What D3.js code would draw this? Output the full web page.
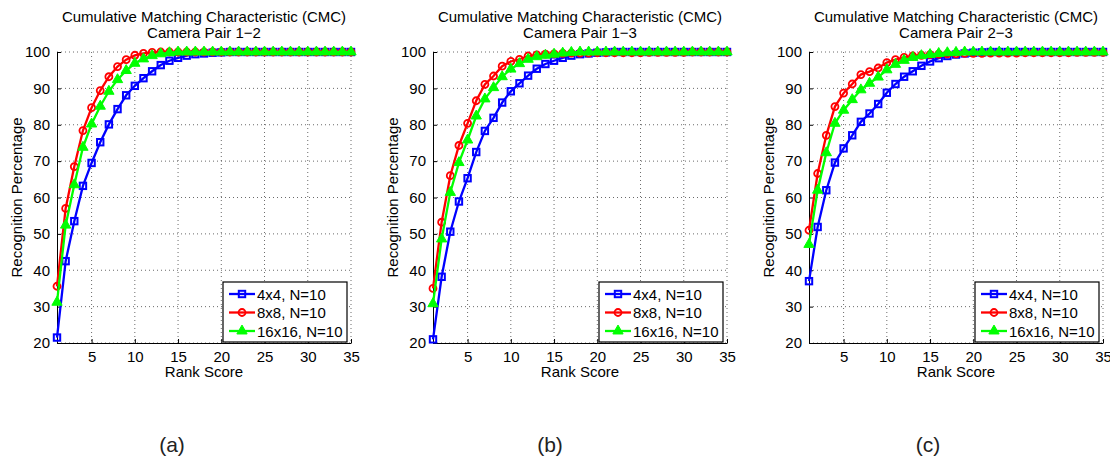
<!DOCTYPE html>
<meta charset="utf-8">
<style>
  body { margin: 0; background: #fff; }
  text { font-family: "Liberation Sans", Arial, sans-serif; }
</style>
<div id="cmc"></div>
<script src="https://d3js.org/d3.v7.min.js"></script>
<script>
// data, rank 1..35
var ranks = d3.range(1, 36);
var seriesNames = ["4x4, N=10", "8x8, N=10", "16x16, N=10"];
var panelTitles = ["Camera Pair 1\u22122", "Camera Pair 1\u22123", "Camera Pair 2\u22123"];
var captions = ["(a)", "(b)", "(c)"];
var xTicks = [5, 10, 15, 20, 25, 30, 35];
var yTicks = [20, 30, 40, 50, 60, 70, 80, 90, 100];

var blueA = [21.5, 42.5, 53.5, 63.2, 69.5, 75.2, 80.1, 84.3, 88.1, 90.7, 92.8, 94.7, 96.4, 97.6, 98.4, 99.0, 99.4, 99.6, 99.8, 99.9,
             100, 100, 100, 100, 100, 100, 100, 100, 100, 100, 100, 100, 100, 100, 100];
var redA  = [35.6, 57.0, 68.5, 78.4, 84.7, 89.4, 93.2, 96.0, 97.9, 99.1, 99.6, 99.9, 100, 100, 100, 100, 100, 100, 100, 100,
             100, 100, 100, 100, 100, 100, 100, 100, 100, 100, 100, 100, 100, 100, 100];
var greenA = [31.2, 52.4, 63.5, 73.8, 80.2, 85.1, 89.2, 92.4, 94.9, 96.9, 98.1, 99.0, 99.5, 99.8, 100, 100, 100, 100, 100, 100,
              100, 100, 100, 100, 100, 100, 100, 100, 100, 100, 100, 100, 100, 100, 100];

var blueB = [21.0, 38.2, 50.6, 58.9, 65.3, 72.5, 78.3, 81.9, 86.1, 89.2, 91.4, 93.5, 95.4, 96.7, 97.6, 98.4, 99.0, 99.4, 99.6, 99.8,
             99.9, 100, 100, 100, 100, 100, 100, 100, 100, 100, 100, 100, 100, 100, 100];
var redB  = [35.0, 53.2, 66.0, 74.3, 80.4, 86.6, 91.1, 93.4, 96.1, 97.4, 98.0, 98.9, 99.2, 99.4, 99.5, 99.6, 99.7, 99.7, 99.7, 99.8,
             99.8, 99.8, 99.8, 99.8, 99.8, 99.9, 99.9, 99.9, 99.9, 99.9, 100, 100, 100, 100, 100];
var greenB = [30.8, 48.6, 61.4, 69.6, 75.8, 82.4, 87.1, 90.2, 93.2, 95.3, 96.8, 98.0, 98.7, 99.1, 99.4, 99.7, 99.9, 100, 100, 100,
              100, 100, 100, 100, 100, 100, 100, 100, 100, 100, 100, 100, 100, 100, 100];

var blueC = [37.0, 51.9, 62.0, 69.6, 73.5, 77.1, 80.8, 83.1, 85.7, 88.8, 91.2, 93.2, 94.7, 96.2, 97.4, 98.3, 98.9, 99.3, 99.6, 99.8,
             99.9, 100, 100, 100, 100, 100, 100, 100, 100, 100, 100, 100, 100, 100, 100];
var redC  = [51.0, 66.6, 77.1, 85.0, 88.7, 91.2, 93.8, 94.6, 95.6, 97.1, 97.9, 98.5, 98.9, 99.1, 99.3, 99.4, 99.5, 99.5, 99.6, 99.6,
             99.6, 99.7, 99.7, 99.7, 99.7, 99.8, 99.8, 99.8, 99.8, 99.8, 99.8, 99.9, 99.9, 99.9, 99.9];
var greenC = [47.1, 62.0, 72.3, 80.4, 84.0, 86.9, 89.6, 91.4, 93.1, 95.1, 96.6, 97.7, 98.5, 99.0, 99.3, 99.6, 99.8, 99.9, 100, 100,
              100, 100, 100, 100, 100, 100, 100, 100, 100, 100, 100, 100, 100, 100, 100];

var panels = [[blueA, redA, greenA], [blueB, redB, greenB], [blueC, redC, greenC]];
var colors = ["#0000ff", "#ff0000", "#00ff00"];

var W = 1110, H = 461;
var svg = d3.select("#cmc").append("svg").attr("width", W).attr("height", H);

var plotLeft = [57, 433, 809], plotW = 294, plotTop = 52, plotBottom = 343;

function marker(g, kind, color) {
  if (kind == 0) {
    g.append("rect").attr("x", -3.2).attr("y", -3.2).attr("width", 6.4).attr("height", 6.4)
      .attr("fill", "none").attr("stroke", color).attr("stroke-width", 2);
  } else if (kind == 1) {
    g.append("circle").attr("r", 3.5).attr("fill", "none").attr("stroke", color).attr("stroke-width", 1.8);
  } else {
    g.append("path").attr("d", d3.symbol().type(d3.symbolTriangle).size(46))
      .attr("fill", color).attr("stroke", color).attr("stroke-width", 1);
  }
}

panels.forEach(function(series, p) {
  var g = svg.append("g").attr("transform", "translate(" + plotLeft[p] + ",0)");

  var x = d3.scaleLinear().domain([1, 35]).range([0, plotW]);
  var y = d3.scaleLinear().domain([20, 100]).range([plotBottom, plotTop]);

  // grid
  g.selectAll(".gx").data(xTicks).enter().append("line")
    .attr("x1", function(d) { return x(d); }).attr("x2", function(d) { return x(d); })
    .attr("y1", plotTop).attr("y2", plotBottom)
    .attr("stroke", "#444").attr("stroke-width", 0.8).attr("stroke-dasharray", "1,3");
  g.selectAll(".gy").data(yTicks).enter().append("line")
    .attr("x1", 0).attr("x2", plotW)
    .attr("y1", function(d) { return y(d); }).attr("y2", function(d) { return y(d); })
    .attr("stroke", "#444").attr("stroke-width", 0.8).attr("stroke-dasharray", "1,3");

  // axes with inward ticks
  var ax = g.append("g").attr("transform", "translate(0," + plotBottom + ")")
    .call(d3.axisBottom(x).tickValues(xTicks).tickSize(-4).tickPadding(8).tickSizeOuter(0));
  var ay = g.append("g")
    .call(d3.axisLeft(y).tickValues(yTicks).tickSize(-4).tickPadding(7).tickSizeOuter(0));
  [ax, ay].forEach(function(a) {
    a.select(".domain").attr("stroke", "#000").attr("stroke-width", 1);
    a.selectAll("text").attr("font-size", 15).attr("font-family", "Liberation Sans, Arial, sans-serif").attr("fill", "#000");
  });

  // series
  series.forEach(function(vals, s) {
    var line = d3.line().x(function(d, i) { return x(ranks[i]); }).y(function(d) { return y(d); });
    g.append("path").datum(vals).attr("d", line)
      .attr("fill", "none").attr("stroke", colors[s]).attr("stroke-width", 2.3);
    vals.forEach(function(v, i) {
      var m = g.append("g").attr("transform", "translate(" + x(ranks[i]) + "," + y(v) + ")");
      marker(m, s, colors[s]);
    });
  });

  // titles and labels
  var cx = plotW / 2;
  g.append("text").attr("x", cx).attr("y", 22).attr("text-anchor", "middle").attr("font-size", 15)
    .text("Cumulative Matching Characteristic (CMC)");
  g.append("text").attr("x", cx).attr("y", 38).attr("text-anchor", "middle").attr("font-size", 15)
    .text(panelTitles[p]);
  g.append("text").attr("x", cx).attr("y", 377).attr("text-anchor", "middle").attr("font-size", 15)
    .text("Rank Score");
  g.append("text").attr("transform", "translate(-35," + ((plotTop + plotBottom) / 2) + ") rotate(-90)")
    .attr("text-anchor", "middle").attr("font-size", 15).text("Recognition Percentage");

  // legend
  var lg = g.append("g").attr("transform", "translate(" + (plotW - 128) + "," + (plotBottom - 61) + ")");
  lg.append("rect").attr("width", 124).attr("height", 60)
    .attr("fill", "#fff").attr("stroke", "#000").attr("stroke-width", 1.2);
  seriesNames.forEach(function(name, s) {
    var ly = 12 + s * 18.5;
    lg.append("line").attr("x1", 6).attr("x2", 32).attr("y1", ly).attr("y2", ly)
      .attr("stroke", colors[s]).attr("stroke-width", 2.3);
    marker(lg.append("g").attr("transform", "translate(19," + ly + ")"), s, colors[s]);
    lg.append("text").attr("x", 34).attr("y", ly + 5.5).attr("font-size", 15).text(name);
  });

  // caption
  svg.append("text").attr("x", [172, 550, 928][p]).attr("y", 452).attr("text-anchor", "middle")
    .attr("font-family", "DejaVu Sans, sans-serif").attr("font-size", 21).attr("font-weight", 300)
    .attr("fill", "#222").text(captions[p]);
});
</script>
